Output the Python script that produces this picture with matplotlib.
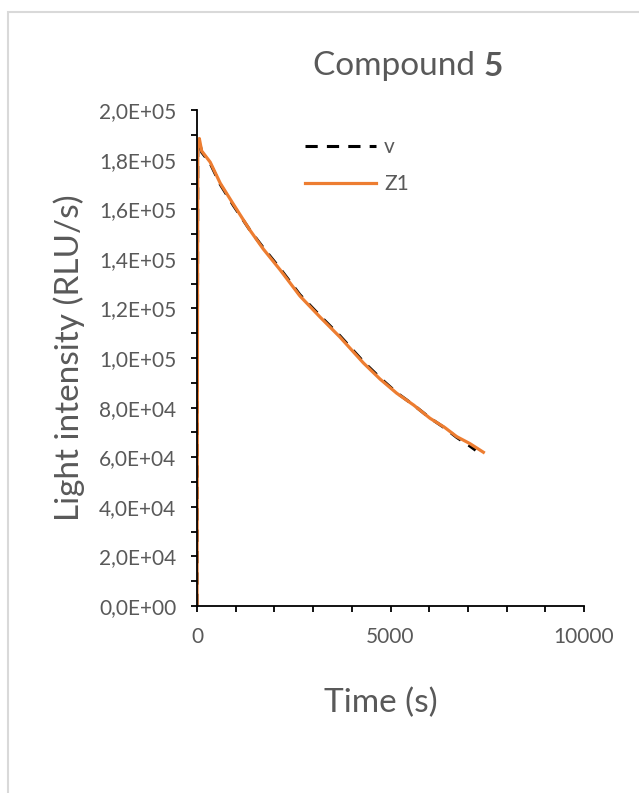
import matplotlib
matplotlib.use("Agg")
import matplotlib.pyplot as plt
from matplotlib.patches import Rectangle
from matplotlib.ticker import MultipleLocator, FuncFormatter

# Data
time_v = [0, 20, 60, 120, 340, 600, 940, 1370, 1710, 2150, 2660, 3180, 3690,
          4300, 4730, 5160, 5600, 6020, 6400, 6710, 7050, 7200]
light_v = [0, 185000, 187500, 183000, 178500, 170000, 161500, 151500, 144500,
           136000, 125500, 117000, 109000, 98500, 92000, 86000, 81000, 75800,
           71800, 68000, 64500, 62800]

time_z1 = [0, 20, 60, 120, 340, 600, 940, 1370, 1710, 2150, 2660, 3180, 3690,
           4300, 4730, 5160, 5600, 6020, 6400, 6710, 7050, 7400]
light_z1 = [0, 186000, 188500, 183500, 179000, 170500, 162000, 151500, 144000,
            135500, 125000, 116500, 108500, 98000, 91500, 85800, 81000, 75700,
            72000, 68300, 65500, 62000]

text_col = "#595959"
plt.rcParams["font.family"] = ["Lato", "DejaVu Sans"]

fig = plt.figure(figsize=(6.39, 7.93), dpi=100)
# light gray chart border
fig.patches.append(Rectangle((8 / 639, -0.1), 1.2, 1.1 - 12 / 793,
                             transform=fig.transFigure, fill=False,
                             edgecolor="#D9D9D9", linewidth=1.5))

ax = fig.add_axes([197 / 639, 1 - 606 / 793, 387 / 639, 496 / 793])
ax.plot(time_v, light_v, color="black", lw=2.2, dashes=(4, 3), label="v")
ax.plot(time_z1, light_z1, color="#ED7D31", lw=2.3, label="Z1")

ax.set_xlim(0, 10000)
ax.set_ylim(0, 200000)
ax.xaxis.set_major_locator(MultipleLocator(5000))
ax.xaxis.set_minor_locator(MultipleLocator(1000))
ax.yaxis.set_major_locator(MultipleLocator(20000))
ax.yaxis.set_minor_locator(MultipleLocator(10000))
ax.yaxis.set_major_formatter(FuncFormatter(lambda v, p: f"{v:.1E}".replace(".", ",")))

for s in ["top", "right"]:
    ax.spines[s].set_visible(False)
for s in ["left", "bottom"]:
    ax.spines[s].set_linewidth(1.3)
ax.tick_params(which="both", direction="out", length=4, width=1.3,
               colors="black", labelcolor=text_col, labelsize=15)
ax.tick_params(axis="x", pad=11)
ax.tick_params(axis="y", pad=11)

ax.set_ylabel("Light intensity (RLU/s)", fontsize=24, color=text_col, labelpad=10)
ax.set_xlabel("Time (s)", fontsize=24, color=text_col)
ax.xaxis.set_label_coords(0.475, -0.165)

t1 = fig.text(313 / 639, 1 - 75 / 793, "Compound ", fontsize=24, color=text_col,
              va="baseline", ha="left")
ax.annotate("5", xy=(1, 0), xycoords=t1, va="bottom", ha="left",
            fontsize=24, fontweight="bold", color=text_col)

leg = ax.legend(loc="upper left", bbox_to_anchor=(0.279, 0.945), frameon=False,
                handlelength=3.4, handletextpad=0.4, labelspacing=0.8,
                borderpad=0, borderaxespad=0, fontsize=15)
for t in leg.get_texts():
    t.set_color(text_col)

fig.savefig("out.png", dpi=100)
